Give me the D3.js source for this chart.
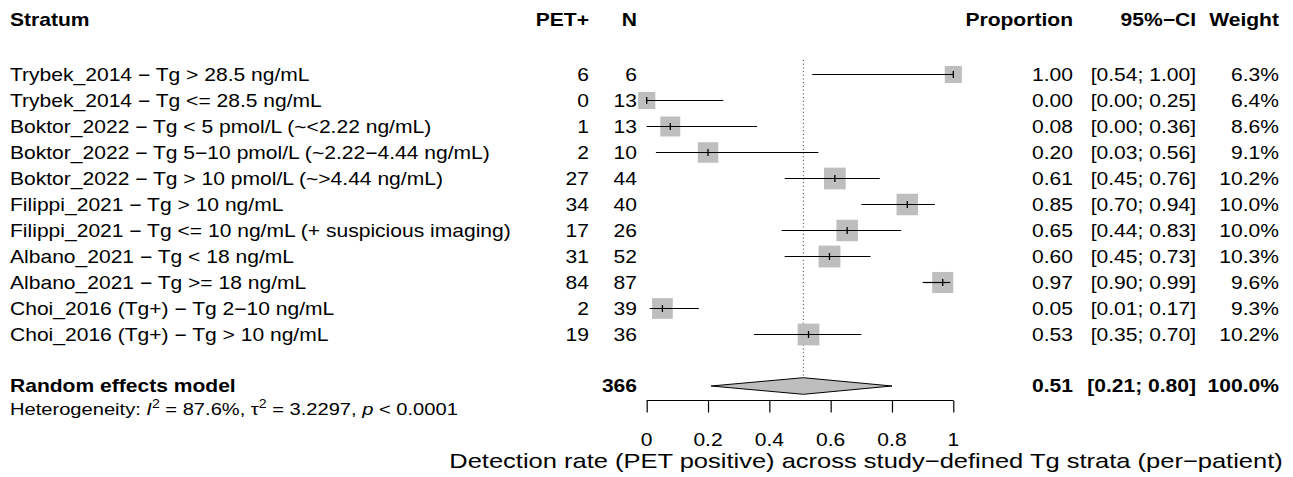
<!DOCTYPE html>
<html>
<head>
<meta charset="utf-8">
<script src="https://cdn.jsdelivr.net/npm/d3@7"></script>
<style>
  html, body { margin: 0; padding: 0; background: #fff; }
  svg { display: block; }
  text { font-family: "Liberation Sans", Arial, Helvetica, sans-serif; fill: #000; }
</style>
</head>
<body>
<svg id="chart" width="1293" height="477"></svg>
<script>
// ---------- data ----------
const strata = [
  "Trybek_2014 \u2212 Tg > 28.5 ng/mL",
  "Trybek_2014 \u2212 Tg <= 28.5 ng/mL",
  "Boktor_2022 \u2212 Tg < 5 pmol/L (~<2.22 ng/mL)",
  "Boktor_2022 \u2212 Tg 5\u221210 pmol/L (~2.22\u22124.44 ng/mL)",
  "Boktor_2022 \u2212 Tg > 10 pmol/L (~>4.44 ng/mL)",
  "Filippi_2021 \u2212 Tg > 10 ng/mL",
  "Filippi_2021 \u2212 Tg <= 10 ng/mL (+ suspicious imaging)",
  "Albano_2021 \u2212 Tg < 18 ng/mL",
  "Albano_2021 \u2212 Tg >= 18 ng/mL",
  "Choi_2016 (Tg+) \u2212 Tg 2\u221210 ng/mL",
  "Choi_2016 (Tg+) \u2212 Tg > 10 ng/mL"
];
const events  = [6, 0, 1, 2, 27, 34, 17, 31, 84, 2, 19];
const totals  = [6, 13, 13, 10, 44, 40, 26, 52, 87, 39, 36];
const lower   = [0.54, 0.00, 0.00, 0.03, 0.45, 0.70, 0.44, 0.45, 0.90, 0.01, 0.35];
const upper   = [1.00, 0.25, 0.36, 0.56, 0.76, 0.94, 0.83, 0.73, 0.99, 0.17, 0.70];
const weights = [6.3, 6.4, 8.6, 9.1, 10.2, 10.0, 10.0, 10.3, 9.6, 9.3, 10.2];
const pooledN = 366;
const pooled  = { est: 0.511, lower: 0.21, upper: 0.80, estLabel: "0.51", ciLabel: "[0.21; 0.80]", weight: "100.0%" };
const hetero  = { I2: "87.6%", tau2: "3.2297", p: "< 0.0001" };
const xTicks  = [0, 0.2, 0.4, 0.6, 0.8, 1];
const xTitle  = "Detection rate (PET positive) across study\u2212defined Tg strata (per\u2212patient)";
const headers = { stratum: "Stratum", pet: "PET+", n: "N", prop: "Proportion", ci: "95%\u2212CI", weight: "Weight" };

// ---------- layout ----------
const FS = 18, SX = 1.17;
const svg = d3.select("#chart");
const x = d3.scaleLinear().domain([0, 1]).range([646.7, 953.3]);
const rowY = d3.scaleLinear().domain([0, 1]).range([74.5, 100.5]); // row i center
const yPooled = 386, yHeader = 20, yHet = 409, yAxis = 400.5;
const col = { stratum: 10, pet: 589, n: 637, prop: 1073, ci: 1196, weight: 1279 };
const sqK = 6.8;
const fmt2 = d3.format(".2f");

function txt(xp, yc, s, anchor, bold, size, sx) {
  const fs = size || FS;
  return svg.append("text")
    .attr("transform", `translate(${xp},${yc + fs * 0.36}) scale(${sx || SX},1)`)
    .attr("text-anchor", anchor || "start")
    .attr("font-size", fs)
    .attr("font-weight", bold ? "bold" : "normal")
    .text(s);
}

// headers
txt(col.stratum, yHeader, headers.stratum, "start", true);
txt(col.pet, yHeader, headers.pet, "end", true);
txt(col.n, yHeader, headers.n, "end", true);
txt(col.prop, yHeader, headers.prop, "end", true);
txt(col.ci, yHeader, headers.ci, "end", true);
txt(col.weight, yHeader, headers.weight, "end", true);

// reference dotted line at pooled estimate
svg.append("line")
  .attr("x1", x(pooled.est)).attr("x2", x(pooled.est))
  .attr("y1", 60).attr("y2", yPooled)
  .attr("stroke", "#333").attr("stroke-width", 1)
  .attr("stroke-dasharray", "1,2.7");

// study rows
strata.forEach((s, i) => {
  const yc = rowY(i);
  const p = events[i] / totals[i];
  const size = sqK * Math.sqrt(weights[i]);
  svg.append("rect")
    .attr("x", x(p) - size / 2).attr("y", yc - size / 2)
    .attr("width", size).attr("height", size)
    .attr("fill", "#bebebe");
  svg.append("line")
    .attr("x1", x(lower[i])).attr("x2", x(upper[i]))
    .attr("y1", yc).attr("y2", yc)
    .attr("stroke", "#000").attr("stroke-width", 1.2);
  svg.append("line")
    .attr("x1", x(p)).attr("x2", x(p))
    .attr("y1", yc - 3.5).attr("y2", yc + 3.5)
    .attr("stroke", "#000").attr("stroke-width", 1.3);

  txt(col.stratum, yc, s, "start", false);
  txt(col.pet, yc, String(events[i]), "end", false);
  txt(col.n, yc, String(totals[i]), "end", false);
  txt(col.prop, yc, fmt2(p), "end", false);
  txt(col.ci, yc, `[${fmt2(lower[i])}; ${fmt2(upper[i])}]`, "end", false);
  txt(col.weight, yc, weights[i].toFixed(1) + "%", "end", false);
});

// pooled diamond
const dh = 8.3;
svg.append("polygon")
  .attr("points", [
    [x(pooled.lower), yPooled],
    [x(pooled.est), yPooled - dh],
    [x(pooled.upper), yPooled],
    [x(pooled.est), yPooled + dh]
  ].map(d => d.join(",")).join(" "))
  .attr("fill", "#bebebe").attr("stroke", "#000").attr("stroke-width", 1);

txt(col.stratum, yPooled, "Random effects model", "start", true);
txt(col.n, yPooled, String(pooledN), "end", true);
txt(col.prop, yPooled, pooled.estLabel, "end", true);
txt(col.ci, yPooled, pooled.ciLabel, "end", true);
txt(col.weight, yPooled, pooled.weight, "end", true);

// heterogeneity
const het = txt(col.stratum, yHet, "", "start", false, 17.2);
het.append("tspan").text("Heterogeneity: ");
het.append("tspan").attr("font-style", "italic").text("I");
het.append("tspan").attr("font-size", 12).attr("dy", -7).text("2");
het.append("tspan").attr("dy", 7).text(" = " + hetero.I2 + ", \u03c4");
het.append("tspan").attr("font-size", 12).attr("dy", -7).text("2");
het.append("tspan").attr("dy", 7).text(" = " + hetero.tau2 + ", ");
het.append("tspan").attr("font-style", "italic").text("p");
het.append("tspan").text(" " + hetero.p);

// x axis
const axis = d3.axisBottom(x).tickValues(xTicks).tickSize(12).tickFormat(d => d3.format("~g")(d));
const ax = svg.append("g").attr("transform", `translate(0,${yAxis})`).call(axis);
ax.select(".domain").attr("stroke", "#000").attr("stroke-width", 1.2).attr("d", `M${x(0)},0H${x(1)}`);
ax.selectAll(".tick line").attr("stroke", "#000").attr("stroke-width", 1.2);
ax.selectAll(".tick text").remove();
xTicks.forEach(t => txt(x(t), 439.5, d3.format("~g")(t), "middle", false));

// axis title: spans roughly 449..1283 in the reference
const TFS = 20.5;
const title = svg.append("text")
  .attr("text-anchor", "middle")
  .attr("font-size", TFS)
  .text(xTitle);
const natural = title.node().getComputedTextLength();
const sxTitle = 834 / natural;
title.attr("transform", `translate(866,467.5) scale(${sxTitle},1)`);
</script>
</body>
</html>
